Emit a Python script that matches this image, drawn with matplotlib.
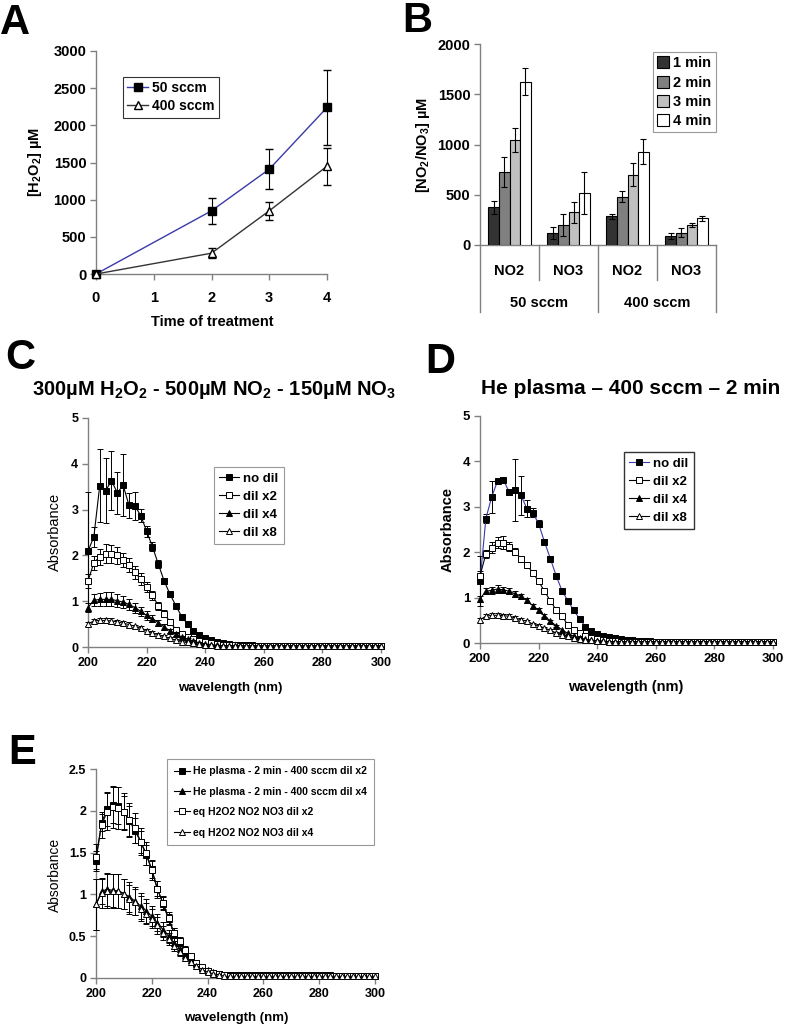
import numpy as np
import matplotlib.pyplot as plt
from matplotlib.patches import Patch
from matplotlib.lines import Line2D
from matplotlib.ticker import FuncFormatter

plt.rcParams['font.family'] = ['Liberation Sans', 'DejaVu Sans']
plt.rcParams['mathtext.fontset'] = 'custom'
plt.rcParams['mathtext.rm'] = 'Liberation Sans'
plt.rcParams['mathtext.bf'] = 'Liberation Sans:bold'
plt.rcParams['mathtext.default'] = 'bf'

# ---- panel A: H2O2 vs time
time_min = [0, 2, 3, 4]
h2o2_50 = [0, 850, 1410, 2240]
h2o2_50_err = [0, 175, 270, 500]
h2o2_400 = [0, 280, 850, 1450]
h2o2_400_err = [0, 70, 125, 250]

# ---- panel B: NO2 / NO3 bars
groups = ['NO2', 'NO3', 'NO2', 'NO3']
flows = ['50 sccm', '400 sccm']
bar_times = ['1 min', '2 min', '3 min', '4 min']
no_1min = [375, 123, 285, 88]
no_2min = [730, 200, 478, 122]
no_3min = [1045, 326, 700, 200]
no_4min = [1625, 515, 930, 266]
no_1min_err = [67, 60, 25, 28]
no_2min_err = [150, 107, 55, 45]
no_3min_err = [116, 106, 116, 22]
no_4min_err = [133, 209, 123, 26]

# ---- spectra, wavelength every 2 nm
wavelength = np.arange(200, 302, 2)

c_nodil = [2.09, 2.41, 3.52, 3.41, 3.63, 3.37, 3.53, 3.09, 3.08, 2.87,
           2.53, 2.19, 1.81, 1.44, 1.15, 0.90, 0.66, 0.50, 0.36, 0.26,
           0.20, 0.15, 0.11, 0.08, 0.06, 0.05, 0.05, 0.04, 0.04, 0.03,
           0.03, 0.03, 0.03, 0.03, 0.03, 0.03, 0.03, 0.03, 0.03, 0.03,
           0.03, 0.03, 0.03, 0.03, 0.03, 0.03, 0.03, 0.03, 0.03, 0.03, 0.03]
c_nodil_err = [1.30, 0.22, 0.80, 0.71, 0.64, 0.46, 0.68, 0.28, 0.31, 0.15,
               0.12, 0.10, 0.08, 0.07, 0.06, 0.05, 0.04, 0.03, 0.03, 0.02]
c_dil2 = [1.44, 1.84, 1.97, 2.04, 2.03, 2.00, 1.90, 1.79, 1.63, 1.48,
          1.31, 1.13, 0.90, 0.73, 0.55, 0.38, 0.29, 0.22, 0.17, 0.13,
          0.10, 0.08, 0.06, 0.05, 0.04, 0.04, 0.03, 0.03, 0.03, 0.03,
          0.03, 0.03, 0.03, 0.03, 0.03, 0.03, 0.03, 0.03, 0.03, 0.03,
          0.03, 0.03, 0.03, 0.03, 0.03, 0.03, 0.03, 0.03, 0.03, 0.03, 0.03]
c_dil2_err = [0.15, 0.15, 0.18, 0.20, 0.20, 0.18, 0.16, 0.15, 0.14, 0.13,
              0.12, 0.10, 0.09, 0.08, 0.06, 0.05, 0.04, 0.03, 0.03, 0.02]
c_dil4 = [0.86, 1.02, 1.04, 1.04, 1.04, 1.01, 0.98, 0.93, 0.86, 0.78,
          0.69, 0.62, 0.53, 0.44, 0.35, 0.28, 0.22, 0.17, 0.13, 0.09,
          0.07, 0.05, 0.04, 0.03, 0.02, 0.02, 0.02, 0.02, 0.02, 0.02,
          0.02, 0.02, 0.02, 0.02, 0.02, 0.02, 0.02, 0.02, 0.02, 0.02,
          0.02, 0.02, 0.02, 0.02, 0.02, 0.02, 0.02, 0.02, 0.02, 0.02, 0.02]
c_dil4_err = [0.10, 0.13, 0.14, 0.15, 0.15, 0.14, 0.13, 0.12, 0.11, 0.10,
              0.09, 0.08, 0.07, 0.06, 0.05, 0.04, 0.03, 0.03, 0.02, 0.02]
c_dil8 = [0.50, 0.57, 0.58, 0.58, 0.57, 0.55, 0.52, 0.49, 0.45, 0.41,
          0.36, 0.31, 0.27, 0.23, 0.19, 0.15, 0.12, 0.10, 0.08, 0.06,
          0.05, 0.04, 0.03, 0.03, 0.03, 0.03, 0.03, 0.03, 0.03, 0.03,
          0.03, 0.03, 0.03, 0.03, 0.03, 0.03, 0.03, 0.03, 0.03, 0.03,
          0.03, 0.03, 0.03, 0.03, 0.03, 0.03, 0.03, 0.03, 0.03, 0.03, 0.03]
c_dil8_err = [0.05, 0.05, 0.06, 0.06, 0.06, 0.05, 0.05, 0.05, 0.04, 0.04,
              0.04, 0.03, 0.03, 0.03, 0.02, 0.02]

d_nodil = [1.36, 2.74, 3.22, 3.57, 3.59, 3.32, 3.37, 3.25, 2.96, 2.87,
           2.63, 2.23, 1.86, 1.48, 1.15, 0.93, 0.72, 0.53, 0.36, 0.26,
           0.20, 0.16, 0.13, 0.10, 0.08, 0.07, 0.06, 0.05, 0.05, 0.04,
           0.03, 0.03, 0.03, 0.03, 0.03, 0.03, 0.03, 0.03, 0.03, 0.03,
           0.03, 0.03, 0.03, 0.03, 0.03, 0.03, 0.03, 0.03, 0.03, 0.03, 0.03]
d_nodil_err = [0.55, 0.10, 0.35, 0.05, 0.05, 0.05, 0.68, 0.42, 0.18, 0.10,
               0.08, 0.06, 0.05, 0.05, 0.04, 0.04, 0.03, 0.03, 0.02, 0.02]
d_dil2 = [1.48, 1.96, 2.10, 2.21, 2.21, 2.12, 2.01, 1.85, 1.72, 1.55,
          1.36, 1.14, 0.93, 0.73, 0.59, 0.40, 0.29, 0.22, 0.15, 0.11,
          0.08, 0.06, 0.05, 0.04, 0.03, 0.03, 0.03, 0.03, 0.03, 0.03,
          0.03, 0.03, 0.03, 0.03, 0.03, 0.03, 0.03, 0.03, 0.03, 0.03,
          0.03, 0.03, 0.03, 0.03, 0.03, 0.03, 0.03, 0.03, 0.03, 0.03, 0.03]
d_dil2_err = [0.10, 0.08, 0.12, 0.12, 0.14, 0.10, 0.08, 0.07, 0.06, 0.05,
              0.05, 0.04, 0.04, 0.03, 0.03, 0.02]
d_dil4 = [0.97, 1.14, 1.16, 1.19, 1.17, 1.14, 1.08, 1.03, 0.94, 0.82,
          0.72, 0.60, 0.48, 0.38, 0.29, 0.21, 0.15, 0.11, 0.08, 0.06,
          0.05, 0.04, 0.03, 0.03, 0.03, 0.03, 0.03, 0.03, 0.03, 0.03,
          0.03, 0.03, 0.03, 0.03, 0.03, 0.03, 0.03, 0.03, 0.03, 0.03,
          0.03, 0.03, 0.03, 0.03, 0.03, 0.03, 0.03, 0.03, 0.03, 0.03, 0.03]
d_dil4_err = [0.06, 0.07, 0.07, 0.08, 0.07, 0.07, 0.06, 0.05, 0.05, 0.04,
              0.04, 0.03, 0.03, 0.02]
d_dil8 = [0.51, 0.59, 0.61, 0.61, 0.60, 0.59, 0.55, 0.51, 0.48, 0.42,
          0.38, 0.33, 0.28, 0.22, 0.18, 0.15, 0.11, 0.09, 0.07, 0.06,
          0.05, 0.04, 0.03, 0.03, 0.03, 0.03, 0.03, 0.03, 0.03, 0.03,
          0.03, 0.03, 0.03, 0.03, 0.03, 0.03, 0.03, 0.03, 0.03, 0.03,
          0.03, 0.03, 0.03, 0.03, 0.03, 0.03, 0.03, 0.03, 0.03, 0.03, 0.03]
d_dil8_err = [0.04, 0.04, 0.04, 0.04, 0.04, 0.04, 0.04, 0.04, 0.03, 0.03,
              0.03, 0.03, 0.03, 0.03, 0.02, 0.02, 0.02, 0.02]

e_he2 = [1.40, 1.86, 2.02, 2.07, 2.06, 1.98, 1.88, 1.76, 1.63, 1.47,
         1.30, 1.07, 0.89, 0.70, 0.54, 0.43, 0.33, 0.25, 0.18, 0.12,
         0.08, 0.06, 0.05, 0.04, 0.03, 0.03, 0.03, 0.03, 0.03, 0.03,
         0.03, 0.03, 0.03, 0.03, 0.03, 0.03, 0.03, 0.03, 0.03, 0.03,
         0.03, 0.03, 0.03, 0.02, 0.02, 0.02, 0.02, 0.02, 0.02, 0.02, 0.02]
e_he2_err = [0.12, 0.10, 0.20, 0.22, 0.22, 0.20, 0.18, 0.15, 0.13, 0.12,
             0.10, 0.09, 0.08, 0.07, 0.06, 0.05, 0.04, 0.03, 0.03, 0.02]
e_he4 = [0.88, 1.04, 1.06, 1.05, 1.04, 1.01, 0.97, 0.92, 0.86, 0.80,
         0.74, 0.66, 0.58, 0.50, 0.42, 0.35, 0.28, 0.22, 0.17, 0.13,
         0.10, 0.07, 0.05, 0.04, 0.02, 0.02, 0.02, 0.02, 0.02, 0.02,
         0.02, 0.02, 0.02, 0.02, 0.02, 0.02, 0.02, 0.02, 0.02, 0.02,
         0.02, 0.02, 0.02, 0.02, 0.02, 0.02, 0.02, 0.02, 0.02, 0.02, 0.02]
e_he4_err = [0.30, 0.15, 0.20, 0.20, 0.20, 0.18, 0.18, 0.17, 0.16, 0.14,
             0.12, 0.10, 0.09, 0.08, 0.07, 0.06, 0.05, 0.04, 0.03, 0.03]
e_eq2 = [1.45, 1.83, 1.99, 2.05, 2.03, 1.99, 1.89, 1.79, 1.63, 1.49,
         1.29, 1.06, 0.90, 0.72, 0.54, 0.44, 0.34, 0.26, 0.18, 0.13,
         0.08, 0.06, 0.05, 0.03, 0.02, 0.02, 0.02, 0.02, 0.02, 0.02,
         0.02, 0.02, 0.02, 0.02, 0.02, 0.02, 0.02, 0.02, 0.02, 0.02,
         0.02, 0.02, 0.02, 0.02, 0.02, 0.02, 0.02, 0.02, 0.02, 0.02, 0.02]
e_eq2_err = [0.15, 0.15, 0.22, 0.25, 0.25, 0.22, 0.20, 0.18, 0.16, 0.14,
             0.12, 0.10, 0.08, 0.07, 0.06, 0.05, 0.04, 0.03, 0.03, 0.02]
e_eq4 = [0.88, 1.02, 1.04, 1.04, 1.04, 1.01, 0.94, 0.91, 0.83, 0.77,
         0.71, 0.63, 0.54, 0.47, 0.38, 0.31, 0.24, 0.19, 0.14, 0.10,
         0.07, 0.05, 0.04, 0.02, 0.02, 0.02, 0.02, 0.02, 0.02, 0.02,
         0.02, 0.02, 0.02, 0.02, 0.02, 0.02, 0.02, 0.02, 0.02, 0.02,
         0.02, 0.02, 0.02, 0.02, 0.02, 0.02, 0.02, 0.02, 0.02, 0.02, 0.02]
e_eq4_err = [0.30, 0.18, 0.20, 0.20, 0.20, 0.18, 0.17, 0.16, 0.15, 0.13,
             0.11, 0.10, 0.08, 0.07, 0.06, 0.05, 0.04, 0.03, 0.03, 0.02]

W, H = 787, 1029
fig = plt.figure(figsize=(W / 100, H / 100), dpi=100)
AX_GREY = '#808080'
BLUE = '#3a3aa8'


def px_axes(l, t, r, b):
    return fig.add_axes([l / W, 1 - b / H, (r - l) / W, (b - t) / H])


def style(ax, size=8.5, weight='bold'):
    for s in ['top', 'right']:
        ax.spines[s].set_visible(False)
    for s in ['left', 'bottom']:
        ax.spines[s].set_color(AX_GREY)
        ax.spines[s].set_linewidth(1)
        ax.spines[s].set_zorder(0)
    ax.tick_params(direction='out', length=4, width=1, color=AX_GREY,
                   labelsize=size, pad=3)
    for lab in ax.get_xticklabels() + ax.get_yticklabels():
        lab.set_fontweight(weight)


def fx(x):
    return x / W


def fy(y):
    return 1 - y / H


def unclip(container):
    for art in container.get_children():
        art.set_clip_on(False)


# panel letters
for letter, x, y in [('A', 15, 23), ('B', 417, 21), ('C', 20, 358),
                     ('D', 440, 362), ('E', 22, 753)]:
    fig.text(fx(x), fy(y), letter, fontsize=30, fontweight='bold',
             ha='center', va='center')

# ---------------- A
axA = px_axes(96, 51, 327, 274)
ebA1 = axA.errorbar(time_min, h2o2_50, yerr=h2o2_50_err, color=BLUE, lw=1,
                    marker='s', ms=6, mfc='black', mec='black', ecolor='black',
                    elinewidth=0.8, capsize=3)
ebA2 = axA.errorbar(time_min, h2o2_400, yerr=h2o2_400_err, color='#333333', lw=1,
                    marker='^', ms=6, mfc='white', mec='black', ecolor='black',
                    elinewidth=0.8, capsize=3)
unclip(ebA1)
unclip(ebA2)
axA.set_xlim(0, 4)
axA.set_ylim(0, 3000)
axA.set_xticks([0, 1, 2, 3, 4])
axA.set_yticks(range(0, 3001, 500))
style(axA, size=10.5)
axA.tick_params(axis='x', pad=8)
hA = [Line2D([], [], color=BLUE, lw=1, marker='s', ms=6, mfc='black',
             mec='black', label='50 sccm'),
      Line2D([], [], color='#333333', lw=1, marker='^', ms=6, mfc='white',
             mec='black', label='400 sccm')]
legA = axA.legend(handles=hA, loc='upper left', bbox_to_anchor=(fx(123), fy(77)),
                  bbox_transform=fig.transFigure, frameon=True, fancybox=False,
                  edgecolor='black', prop={'weight': 'bold', 'size': 10},
                  handlelength=1.5, handletextpad=0.3, borderpad=0.3,
                  labelspacing=0.3, borderaxespad=0)
legA.get_frame().set_linewidth(0.8)
fig.text(fx(212), fy(322), 'Time of treatment', fontsize=10.5,
         fontweight='bold', ha='center', va='center')
fig.text(fx(35), fy(162), r'[H$_2$O$_2$] µM', fontsize=10.5,
         fontweight='bold', rotation=90, ha='center', va='center')

# ---------------- B
axB = px_axes(480, 44, 716, 245)
xg = np.arange(len(groups))
bw = 0.18
series_b = [(no_1min, no_1min_err, '#333333'), (no_2min, no_2min_err, '#808080'),
            (no_3min, no_3min_err, '#c0c0c0'), (no_4min, no_4min_err, 'white')]
handles = []
for i, (vals, errs, col) in enumerate(series_b):
    off = (i - 1.5) * bw
    axB.bar(xg + off, vals, bw, color=col, edgecolor='black', linewidth=0.8,
            yerr=errs, error_kw=dict(ecolor='black', elinewidth=0.8, capsize=2.5,
                                     capthick=0.8))
    handles.append(Patch(facecolor=col, edgecolor='black', linewidth=0.8,
                         label=bar_times[i]))
axB.set_xlim(-0.5, 3.5)
axB.set_ylim(0, 2000)
axB.set_yticks(range(0, 2001, 500))
axB.set_xticks(xg)
axB.set_xticklabels(groups)
style(axB, size=10.5)
axB.tick_params(axis='x', length=0, pad=14)
tr = axB.get_xaxis_transform()
for xs in [0.5, 2.5]:
    axB.plot([xs, xs], [0, -0.175], transform=tr, color=AX_GREY, lw=1,
             clip_on=False)
for xs in [-0.5, 1.5, 3.5]:
    axB.plot([xs, xs], [0, -0.335], transform=tr, color=AX_GREY, lw=1,
             clip_on=False)
for j, fl in enumerate(flows):
    axB.text(0.5 + 2 * j, -0.29, fl, transform=tr, ha='center', va='center',
             fontsize=10.5, fontweight='bold')
legB = axB.legend(handles=handles, loc='upper left',
                  bbox_to_anchor=(fx(653), fy(52)), bbox_transform=fig.transFigure,
                  frameon=True, fancybox=False, edgecolor=AX_GREY,
                  prop={'weight': 'bold', 'size': 10.5}, handlelength=0.8,
                  handleheight=0.9, handletextpad=0.3, borderpad=0.3,
                  labelspacing=0.35, borderaxespad=0)
legB.get_frame().set_linewidth(0.8)
fig.text(fx(423), fy(145), r'[NO$_2$/NO$_3$] µM', fontsize=10.5,
         fontweight='bold', rotation=90, ha='center', va='center')


# ---------------- spectra helper
def spectrum(ax, vals, errs, marker, mfc, label, lc='black', ms=4.5):
    n = len(errs)
    eb = ax.errorbar(wavelength[:n], vals[:n], yerr=errs, fmt='none',
                     ecolor='black', elinewidth=0.7, capsize=2, capthick=0.7)
    unclip(eb)
    ln, = ax.plot(wavelength, vals, color=lc, lw=0.8, marker=marker, ms=ms,
                  mfc=mfc, mec='black', mew=0.7, label=label)
    ln.set_clip_on(False)


def spectrum_axes(ax, ymax, ystep, tick_size):
    ax.set_xlim(200, 300)
    ax.set_ylim(0, ymax)
    ax.set_xticks(range(200, 301, 20))
    ax.set_yticks(np.arange(0, ymax + 0.001, ystep))
    ax.yaxis.set_major_formatter(FuncFormatter(lambda v, p: '%g' % v))
    style(ax, size=tick_size)


# ---------------- C
axC = px_axes(88, 418, 381, 647)
spectrum(axC, c_nodil, c_nodil_err, 's', 'black', 'no dil')
spectrum(axC, c_dil2, c_dil2_err, 's', 'white', 'dil x2')
spectrum(axC, c_dil4, c_dil4_err, '^', 'black', 'dil x4')
spectrum(axC, c_dil8, c_dil8_err, '^', 'white', 'dil x8')
spectrum_axes(axC, 5, 1, 9)
legC = axC.legend(loc='upper left', bbox_to_anchor=(fx(214), fy(467)),
                  bbox_transform=fig.transFigure, frameon=True, fancybox=False,
                  edgecolor=AX_GREY, prop={'weight': 'bold', 'size': 9.5},
                  handlelength=1.5, handletextpad=0.3, borderpad=0.4,
                  labelspacing=0.45, borderaxespad=0)
legC.get_frame().set_linewidth(0.8)
fig.text(fx(32), fy(390), r'300µM H$_2$O$_2$ - 500µM NO$_2$ - 150µM NO$_3$',
         fontsize=14.5, fontweight='bold', ha='left', va='center')
fig.text(fx(55), fy(532), 'Absorbance', fontsize=10.5, rotation=90,
         ha='center', va='center')
fig.text(fx(230), fy(688), 'wavelength (nm)', fontsize=9.5,
         fontweight='bold', ha='center', va='center')

# ---------------- D
axD = px_axes(480, 416, 773, 643)
spectrum(axD, d_nodil, d_nodil_err, 's', 'black', 'no dil', lc=BLUE)
spectrum(axD, d_dil2, d_dil2_err, 's', 'white', 'dil x2')
spectrum(axD, d_dil4, d_dil4_err, '^', 'black', 'dil x4')
spectrum(axD, d_dil8, d_dil8_err, '^', 'white', 'dil x8')
spectrum_axes(axD, 5, 1, 9.5)
legD = axD.legend(loc='upper left', bbox_to_anchor=(fx(624), fy(452)),
                  bbox_transform=fig.transFigure, frameon=True, fancybox=False,
                  edgecolor='black', prop={'weight': 'bold', 'size': 9.5},
                  handlelength=1.5, handletextpad=0.3, borderpad=0.4,
                  labelspacing=0.45, borderaxespad=0)
legD.get_frame().set_linewidth(1)
fig.text(fx(631), fy(388), 'He plasma – 400 sccm – 2 min', fontsize=15,
         fontweight='bold', ha='center', va='center')
fig.text(fx(448), fy(530), 'Absorbance', fontsize=10.5, fontweight='bold',
         rotation=90, ha='center', va='center')
fig.text(fx(626), fy(687), 'wavelength (nm)', fontsize=10.5,
         fontweight='bold', ha='center', va='center')

# ---------------- E
axE = px_axes(96, 769, 375, 978)
spectrum(axE, e_he2, e_he2_err, 's', 'black', 'He plasma - 2 min - 400 sccm dil x2', ms=4)
spectrum(axE, e_he4, e_he4_err, '^', 'black', 'He plasma - 2 min - 400 sccm dil x4', ms=4)
spectrum(axE, e_eq2, e_eq2_err, 's', 'white', 'eq H2O2 NO2 NO3 dil x2', ms=4)
spectrum(axE, e_eq4, e_eq4_err, '^', 'white', 'eq H2O2 NO2 NO3 dil x4', ms=4)
spectrum_axes(axE, 2.5, 0.5, 9)
legE = axE.legend(loc='upper left', bbox_to_anchor=(fx(167), fy(759)),
                  bbox_transform=fig.transFigure, frameon=True, fancybox=False,
                  edgecolor=AX_GREY, prop={'weight': 'bold', 'size': 7.5},
                  handlelength=1.5, handletextpad=0.3, borderpad=0.7,
                  labelspacing=1.0, borderaxespad=0)
legE.get_frame().set_linewidth(0.8)
fig.text(fx(55), fy(875), 'Absorbance', fontsize=10, rotation=90,
         ha='center', va='center')
fig.text(fx(236), fy(1018), 'wavelength (nm)', fontsize=9.5,
         fontweight='bold', ha='center', va='center')

fig.savefig('out.png', dpi=100)
